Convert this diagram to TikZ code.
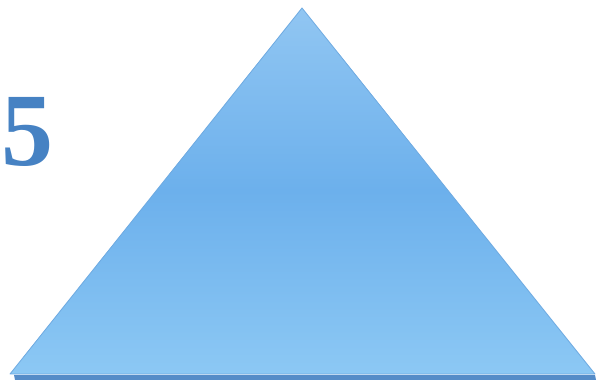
\documentclass[tikz,border=0pt]{standalone}
\usepackage{fontspec}
\setmainfont{Liberation Serif}
\definecolor{fivecol}{RGB}{70,130,195}
\definecolor{tritop}{RGB}{145,198,242}
\definecolor{trimid}{RGB}{108,176,236}
\definecolor{tribot}{RGB}{140,200,244}
\definecolor{triedge}{RGB}{110,170,225}
\definecolor{shadowcol}{RGB}{85,140,200}
\tikzset{
  tri/.style={draw=triedge, line width=0.8pt, line join=round, top color=tritop, bottom color=tribot, middle color=trimid},
  shadowstrip/.style={fill=shadowcol, draw=none},
  numlabel/.style={text=fivecol, font=\fontsize{104}{104}\selectfont\bfseries, inner sep=0pt, anchor=base west}
}
\begin{document}
\begin{tikzpicture}[x=1pt,y=1pt]
\useasboundingbox (0,0) rectangle (609,387);
\coordinate (bl) at (10,13);
\coordinate (br) at (595,13);
\coordinate (apex) at (302,379);
\path[shadowstrip] (14,12) -- (595,12) -- (596,7) -- (15,7) -- cycle;
\path[tri] (bl) -- (apex) -- (br) -- cycle;
\node[numlabel] (five) at (1,221) {5};
\end{tikzpicture}
\end{document}
